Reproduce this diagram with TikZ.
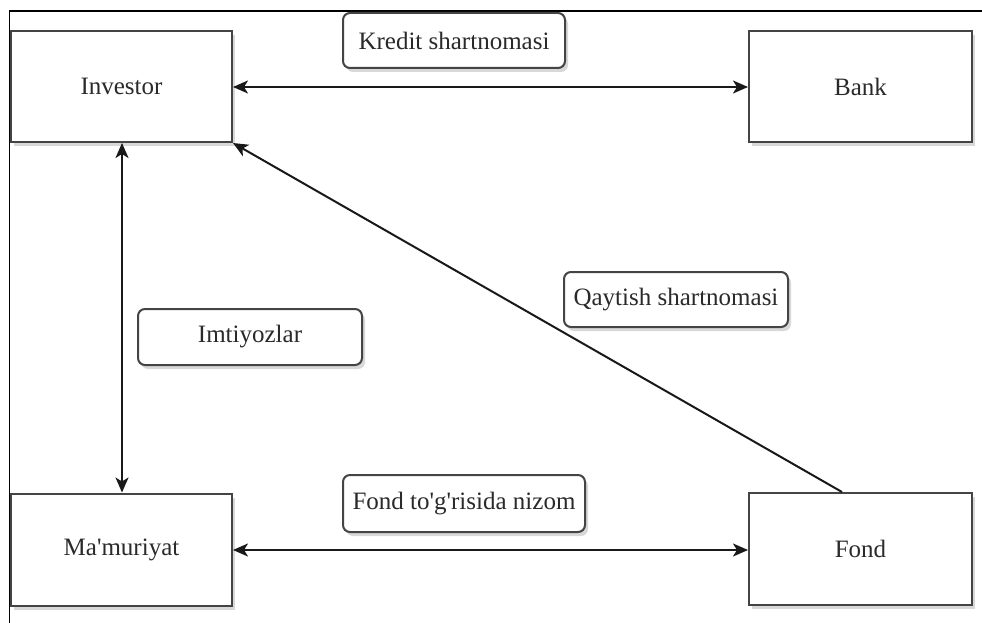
\documentclass[tikz,border=0pt]{standalone}
\usepackage{fontspec}
\setmainfont{Liberation Serif}
\usetikzlibrary{arrows.meta,shadows}
\definecolor{txt}{HTML}{2A2A2A}
\definecolor{edge}{HTML}{444444}
\tikzset{
  entity/.style={draw=edge, line width=2pt, fill=white, minimum width=221pt, minimum height=111pt, inner sep=0pt,
    font=\fontsize{25}{30}\selectfont, text=txt,
    drop shadow={shadow xshift=3pt, shadow yshift=-4pt, opacity=0.25, fill=black!60}},
  tag/.style={draw=edge, line width=2pt, fill=white, rounded corners=7pt, minimum height=55pt, inner sep=0pt,
    font=\fontsize{25}{30}\selectfont, text=txt,
    drop shadow={shadow xshift=3pt, shadow yshift=-4pt, opacity=0.25, fill=black!60}},
  link/.style={line width=2pt, draw=black!90},
  ptip/.tip={Stealth[length=15pt, width=13pt, inset=4pt]}
}
\begin{document}
\begin{tikzpicture}[x=1pt, y=-1pt]
\useasboundingbox (0,0) rectangle (982,623);
\fill[white] (0,0) rectangle (982,623);
% frame edges
\coordinate (fa) at (9.5,623);
\coordinate (fb) at (9.5,11);
\coordinate (fc) at (982,11);
\draw[line width=1.6pt, black] (fa) -- (fb) -- (fc);
% entities
\node[entity] (inv) at (121.5,86.5) {Investor};
\node[entity, minimum width=223pt] (bank) at (860.5,86.5) {Bank};
\node[entity, minimum height=112pt] (mam) at (121.5,549.5) {Ma\textquotesingle muriyat};
\node[entity, minimum width=223pt, minimum height=112pt] (fond) at (860.5,549) {Fond};
% labels
\node[tag, minimum width=222pt] (kred) at (454,40.5) {Kredit shartnomasi};
\node[tag, minimum width=224pt] (qayt) at (676,299.5) {Qaytish shartnomasi};
\node[tag, minimum width=224pt, minimum height=56pt] (imt) at (250,337) {Imtiyozlar};
\node[tag, minimum width=242pt, minimum height=57pt] (niz) at (464,503.5) {Fond to\textquotesingle g\textquotesingle risida nizom};
% connectors
\draw[link, {ptip}-{ptip}] (inv.east |- 0,87) -- (bank.west |- 0,87);
\draw[link, {ptip}-{ptip}] (inv.south -| 122,0) -- (mam.north -| 122,0);
\draw[link, {ptip}-{ptip}] (mam.east |- 0,550) -- (fond.west |- 0,550);
\coordinate (fd) at (842,492);
\draw[link, -{ptip}] (fd) -- (inv.south east);
\end{tikzpicture}
\end{document}
